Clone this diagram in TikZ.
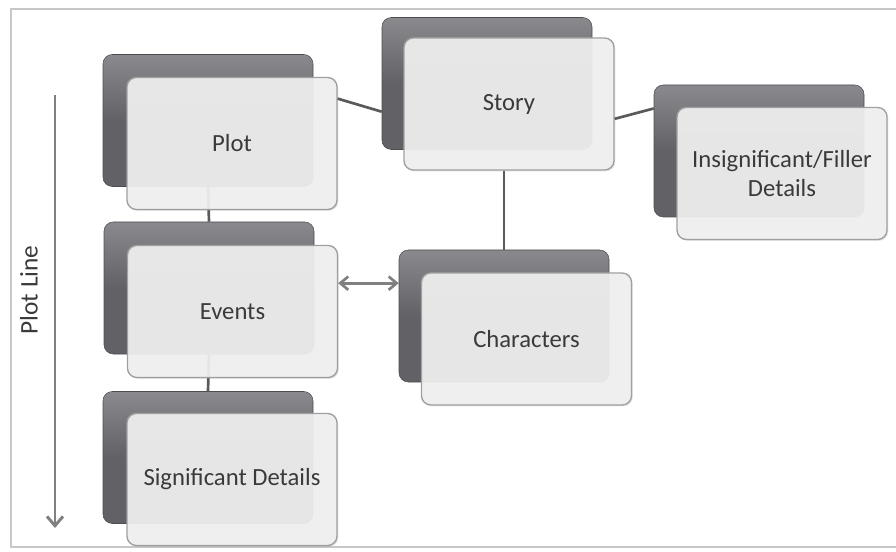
\documentclass[tikz,border=0pt]{standalone}
\usepackage{fontspec}
\setmainfont{Carlito}
\usetikzlibrary{arrows.meta,shadows}
\definecolor{backgray}{RGB}{98,98,102}
\definecolor{backtop}{RGB}{138,138,142}
\definecolor{frontgray}{RGB}{240,240,240}
\definecolor{framegray}{RGB}{200,200,200}
\definecolor{linegray}{RGB}{90,90,93}
\definecolor{textgray}{RGB}{58,58,58}

\begin{document}
\begin{tikzpicture}[x=0.75pt,y=-0.75pt]
\useasboundingbox (0,0) rectangle (896,552);
\draw[framegray,line width=1.5pt] (897,9) -- (11,9) -- (11,547) -- (897,547);

\begin{scope}[every node/.style={rounded corners=7pt,minimum width=157.5pt,minimum height=99pt,
              top color=backtop,bottom color=backgray,middle color=backgray,draw=backgray!80!black}]
    \node (Pb) at (208,120.5) {};
    \node (Sb) at (487,83.5) {};
    \node (Fb) at (759,151) {};
    \node (Eb) at (209,288) {};
    \node (Cb) at (504,316) {};
    \node (Db) at (208,457.5) {};
\end{scope}

\begin{scope}[every path/.style={draw=linegray,line width=2pt}]
    \path (Pb.south) -- (Eb.north);
    \path (Eb.south) -- (Db.north);
\end{scope}

\begin{scope}[every node/.style={rounded corners=7pt,minimum width=157.5pt,minimum height=99pt,
              fill=frontgray,fill opacity=0.93,text opacity=1,draw=gray!75,line width=1pt,
              text=textgray,font=\fontsize{18.5}{22}\selectfont,align=center,
              drop shadow={opacity=0.2,shadow xshift=1pt,shadow yshift=-1pt}}]
    \node (P) at (232,143.5) {Plot};
    \node (S) at (509,104) {Story};
    \node (F) at (782,173.5) {Insignificant/Filler\\Details};
    \node (E) at (232.5,311.5) {Events};
    \node (C) at (526.5,339) {Characters};
    \node (D) at (232,479.5) {Significant Details};
\end{scope}

\begin{scope}[every path/.style={draw=linegray,line width=2pt}]
    \path (P.23) -- (Sb.195);
    \path (S.352) -- (Fb.158);
    \path (Cb.north) -- (Cb.north |- S.south);
    \path[{Straight Barb[length=6pt,width=10pt,line width=2pt]}-{Straight Barb[length=6pt,width=10pt,line width=2pt]},draw=gray,line width=2.5pt]
        (E.15) -- (E.15 -| Cb.west);
\end{scope}

\draw[gray,line width=2.2pt,-{Straight Barb[length=7pt,width=12pt]}] (55,95) -- (55,528);
\node[rotate=90,text=textgray,font=\fontsize{19}{22}\selectfont] (L) at (29,290) {Plot Line};
\end{tikzpicture}
\end{document}
